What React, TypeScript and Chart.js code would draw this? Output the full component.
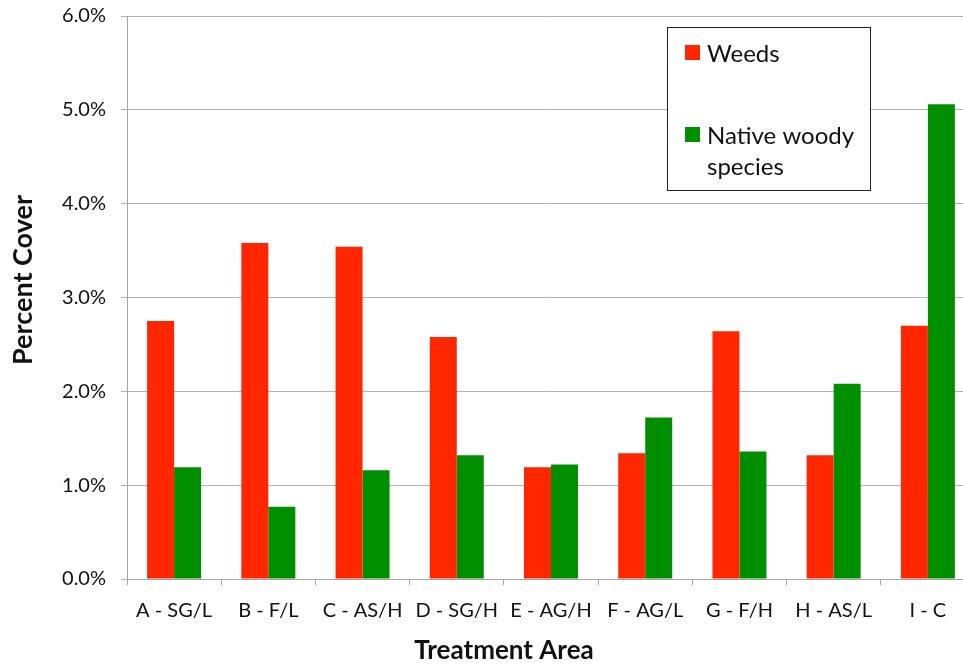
import React, { useEffect, useRef } from "react";
import { Chart, registerables } from "chart.js";

Chart.register(...registerables);

// Treatment areas along the x axis
const categories = [
  "A - SG/L",
  "B - F/L",
  "C - AS/H",
  "D - SG/H",
  "E - AG/H",
  "F - AG/L",
  "G - F/H",
  "H - AS/L",
  "I - C",
];

// Percent cover per treatment area
const weeds = [2.75, 3.58, 3.54, 2.58, 1.19, 1.34, 2.64, 1.32, 2.7];
const nativeWoody = [1.19, 0.77, 1.16, 1.32, 1.22, 1.72, 1.36, 2.08, 5.06];

const seriesNames = ["Weeds", ["Native woody", "species"]];
const seriesColors = ["#ff2600", "#008f00"];

const xTitle = "Treatment Area";
const yTitle = "Percent Cover";

const FONT = "Lato, 'Open Sans', sans-serif";

// Axis titles, placed relative to the full figure rather than the plot area
const axisTitles = {
  id: "axisTitles",
  afterDraw(chart: Chart) {
    const ctx = chart.ctx;
    ctx.save();
    ctx.fillStyle = "#111111";
    ctx.textAlign = "center";
    ctx.textBaseline = "middle";
    ctx.font = `bold 26px ${FONT}`;
    ctx.fillText(xTitle, 504, 651);
    ctx.translate(23, 280);
    ctx.rotate(-Math.PI / 2);
    ctx.font = `bold 27px ${FONT}`;
    ctx.fillText(yTitle, 0, 0);
    ctx.restore();
  },
};

// Boxed legend drawn inside the plot area, top right
const boxLegend = {
  id: "boxLegend",
  afterDraw(chart: Chart) {
    const ctx = chart.ctx;
    ctx.save();
    const x = 667.5;
    const y = 27.5;
    const w = 203;
    const h = 163;
    ctx.fillStyle = "#ffffff";
    ctx.fillRect(x, y, w, h);
    ctx.strokeStyle = "#222222";
    ctx.lineWidth = 1;
    ctx.strokeRect(x, y, w, h);
    ctx.font = `24px ${FONT}`;
    ctx.textBaseline = "middle";
    ctx.textAlign = "left";
    const rows = [53, 135];
    seriesNames.forEach((name, i) => {
      const cy = rows[i];
      ctx.fillStyle = seriesColors[i];
      ctx.fillRect(685, cy - 8, 15, 15);
      ctx.fillStyle = "#111111";
      const lines = Array.isArray(name) ? name : [name];
      lines.forEach((ln, j) => ctx.fillText(ln, 707, cy + 1 + j * 31));
    });
    ctx.restore();
  },
};

export default function App() {
  const canvasRef = useRef<HTMLCanvasElement | null>(null);

  useEffect(() => {
    const canvas = canvasRef.current;
    if (!canvas) return;
    const chart = new Chart(canvas, {
      type: "bar",
      data: {
        labels: categories,
        datasets: [
          {
            label: "Weeds",
            data: weeds,
            backgroundColor: seriesColors[0],
            barPercentage: 1,
            categoryPercentage: 0.573,
          },
          {
            label: "Native woody species",
            data: nativeWoody,
            backgroundColor: seriesColors[1],
            barPercentage: 1,
            categoryPercentage: 0.573,
          },
        ],
      },
      options: {
        responsive: false,
        animation: false,
        layout: { padding: { left: 0, right: 5, top: 16, bottom: 0 } },
        plugins: {
          legend: { display: false },
          tooltip: { enabled: false },
        },
        scales: {
          x: {
            afterFit: (scale: any) => {
              scale.height = 85;
              scale.paddingLeft = 0;
              scale.paddingRight = 0;
            },
            grid: {
              drawOnChartArea: false,
              drawTicks: true,
              tickLength: 6,
              color: "#a6a6a6",
            },
            border: { color: "#a6a6a6" },
            ticks: {
              color: "#111111",
              font: { family: FONT, size: 20 },
              padding: 14,
              maxRotation: 0,
              autoSkip: false,
            },
          },
          y: {
            min: 0,
            max: 6,
            afterFit: (scale: any) => {
              scale.width = 127;
              scale.paddingTop = 0;
              scale.paddingBottom = 0;
            },
            grid: {
              color: "#b3b3b3",
              drawTicks: true,
              tickLength: 6,
            },
            border: { color: "#a6a6a6" },
            ticks: {
              stepSize: 1,
              color: "#111111",
              font: { family: FONT, size: 20 },
              padding: 15,
              callback: (v: any) => Number(v).toFixed(1) + "%",
            },
          },
        },
      },
      plugins: [axisTitles, boxLegend],
    });
    return () => chart.destroy();
  }, []);

  return (
    <div
      style={{
        position: "absolute",
        left: 0,
        top: 0,
        width: 963,
        height: 664,
        overflow: "hidden",
        background: "#ffffff",
      }}
    >
      <canvas ref={canvasRef} width={980} height={664} style={{ display: "block" }} />
    </div>
  );
}
